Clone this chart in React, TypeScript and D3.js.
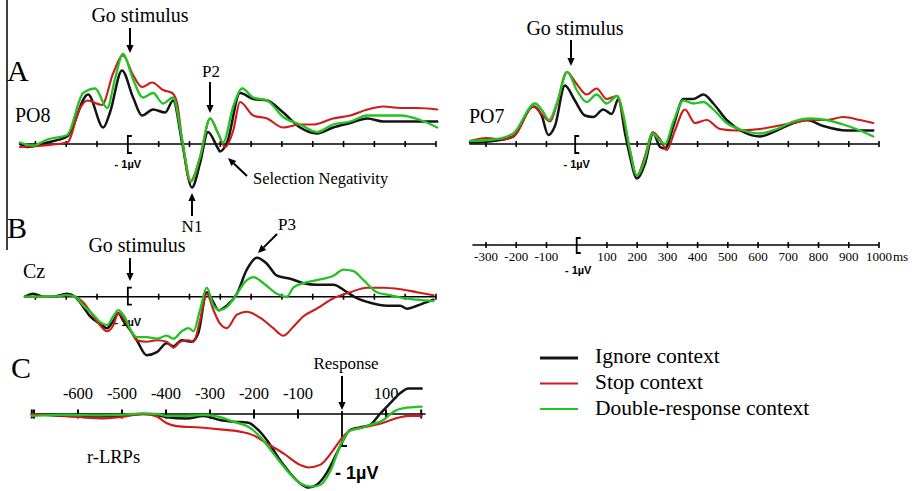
import React from 'react';
import * as d3 from 'd3';

type P = [number, number];

// ---------- Panel A: PO8 (time ms, amplitude µV) ----------
const po8Ignore: P[] = [[-350,0],[-327,-0.2],[-262,0.1],[-197,0.5],[-129,3.3],[-80,1.1],[-58,2.1],[-19,4.9],[17,3.1],[46,1.9],[82,2.3],[121,2.1],[147,2.9],[176,0.1],[208,-2.9],[234,-1.3],[260,0.8],[290,-0.2],[299,-0.5],[322,0.1],[364,3.4],[407,3.0],[452,2.9],[504,2.1],[559,1.1],[614,0.7],[666,1.1],[722,1.4],[777,1.7],[829,1.5],[884,1.5],[939,1.5],[1004,1.5]];
const po8Stop: P[] = [[-350,-0.2],[-197,0.1],[-155,2.4],[-132,2.9],[-84,2.6],[-48,4.7],[-16,5.9],[17,4.6],[46,3.8],[79,4.1],[114,3.6],[144,3.4],[160,2.7],[176,0.3],[202,-2.5],[234,-0.9],[267,1.7],[293,0.7],[316,-0.2],[342,0.9],[364,2.8],[407,1.9],[452,1.7],[504,1.1],[559,1.3],[601,1.3],[666,1.7],[722,1.9],[777,2.3],[829,2.5],[884,2.4],[939,2.4],[1004,2.3]];
const po8Dual: P[] = [[-350,0.1],[-308,-0.1],[-262,0.3],[-197,0.6],[-145,3.4],[-106,3.7],[-67,2.4],[-42,4.3],[-16,6.0],[17,4.3],[49,3.1],[82,3.4],[114,2.7],[147,3.1],[176,0.3],[205,-2.5],[234,-0.9],[267,1.7],[293,0.7],[309,0.1],[342,2.5],[371,3.7],[407,3.1],[452,2.9],[504,1.8],[559,1.3],[614,0.8],[666,1.3],[722,1.5],[777,1.9],[829,1.9],[884,1.9],[949,1.6],[1004,1.1]];

// ---------- Panel A: PO7 ----------
const po7Ignore: P[] = [[-353,0.1],[-276,0.2],[-210,0.5],[-144,2.5],[-116,1.9],[-94,0.6],[-72,1.2],[-39,3.9],[-6,2.9],[27,1.9],[55,1.8],[88,2.3],[116,2.0],[138,3.0],[160,0.7],[176,-0.8],[199,-2.3],[226,-1.3],[253,0.7],[276,-0.2],[292,-0.3],[320,1.2],[353,3.0],[386,3.0],[419,3.3],[452,2.7],[496,1.6],[551,0.8],[606,0.5],[662,0.9],[717,1.4],[761,1.6],[816,1.2],[893,0.9],[981,0.9]];
const po7Stop: P[] = [[-353,0.2],[-298,0.4],[-243,0.3],[-204,0.6],[-144,2.5],[-116,2.0],[-88,1.5],[-66,2.6],[-33,4.8],[0,4.0],[33,3.3],[66,3.7],[99,3.0],[132,3.2],[154,1.8],[176,-0.4],[199,-2.1],[226,-0.8],[251,0.8],[276,0.3],[298,-0.4],[325,0.9],[358,2.3],[391,1.4],[430,1.6],[474,1.0],[529,0.9],[606,1.0],[662,1.2],[717,1.4],[772,1.6],[827,1.6],[882,1.8],[937,1.6],[981,1.4]];
const po7Dual: P[] = [[-353,0.2],[-276,0.3],[-210,0.7],[-138,2.7],[-113,2.2],[-91,1.6],[-66,2.7],[-31,4.8],[0,3.6],[33,2.8],[66,3.3],[99,2.7],[134,3.2],[154,2.0],[176,-0.4],[199,-2.1],[226,-1.0],[251,0.7],[276,0.2],[292,0.0],[320,1.5],[353,2.9],[386,2.7],[419,2.8],[452,2.3],[496,1.4],[551,0.9],[606,0.7],[662,1.0],[717,1.5],[772,1.7],[827,1.6],[882,1.3],[937,0.9],[981,0.5]];

// ---------- Panel B: Cz ----------
const czIgnore: P[] = [[-334,0],[-307,0.2],[-274,0],[-242,0],[-198,0.2],[-171,0],[-144,-0.7],[-123,-1.3],[-90,-1.8],[-68,-2.1],[-47,-1.6],[-31,-1.1],[-15,-1.6],[7,-2.2],[29,-2.9],[61,-3.9],[94,-3.7],[126,-3.1],[148,-3.3],[175,-2.9],[207,-3.0],[229,-2.4],[256,0.3],[278,-0.4],[294,-0.9],[321,-0.6],[354,0.2],[386,1.8],[419,2.6],[451,2.2],[484,1.4],[527,1.2],[570,0.9],[613,0.8],[667,0.8],[711,0.3],[743,-0.1],[786,-0.4],[841,-0.6],[884,-0.6],[906,-0.8],[938,-0.6],[992,-0.2]];
const czStop: P[] = [[-334,0],[-274,0],[-242,0],[-198,0.1],[-171,0],[-144,-0.4],[-112,-1.3],[-90,-1.9],[-68,-2.3],[-47,-1.9],[-31,-1.1],[-9,-1.6],[13,-2.4],[29,-2.9],[61,-3.0],[94,-2.9],[126,-3.0],[148,-3.4],[170,-3.0],[197,-2.9],[213,-3.0],[234,-1.6],[256,0.2],[278,-0.9],[299,-1.8],[321,-2.1],[354,-1.2],[386,-1.0],[429,-1.4],[472,-2.1],[505,-2.6],[537,-2.0],[570,-1.3],[613,-0.8],[667,-0.1],[722,0.3],[776,0.6],[830,0.6],[884,0.5],[938,0.3],[992,0.1]];
const czDual: P[] = [[-334,0],[-274,0],[-242,0],[-198,0.1],[-171,0],[-144,-0.6],[-112,-1.2],[-90,-1.7],[-68,-1.9],[-47,-1.3],[-31,-0.9],[-9,-1.4],[13,-2.4],[29,-2.7],[61,-2.7],[94,-2.8],[126,-2.6],[148,-2.8],[175,-2.3],[197,-2.1],[213,-2.3],[234,-0.9],[256,0.6],[278,-0.6],[299,-0.9],[321,-0.7],[354,0.2],[386,1.1],[408,1.3],[440,0.9],[484,0.2],[516,0],[537,0.6],[570,0.9],[613,1.1],[667,1.4],[700,1.8],[732,1.7],[765,1.1],[808,0.3],[851,0.1],[895,-0.1],[938,-0.2],[992,-0.3]];

// ---------- Panel C: r-LRPs ----------
const lrpIgnore: P[] = [[-705,0],[-626,-0.06],[-550,-0.08],[-505,-0.06],[-452,0],[-421,-0.03],[-398,-0.1],[-353,-0.14],[-315,-0.06],[-277,-0.19],[-247,-0.24],[-213,-0.27],[-194,-0.45],[-171,-0.81],[-141,-1.44],[-118,-1.85],[-95,-2.17],[-76,-2.3],[-58,-2.22],[-35,-1.85],[-12,-1.23],[3,-0.81],[18,-0.5],[41,-0.42],[64,-0.34],[86,0],[109,0.33],[132,0.65],[151,0.8],[181,0.8]];
const lrpStop: P[] = [[-705,0],[-626,-0.06],[-550,-0.14],[-505,-0.1],[-452,0],[-421,-0.08],[-398,-0.29],[-376,-0.38],[-323,-0.42],[-277,-0.48],[-232,-0.55],[-202,-0.66],[-171,-0.92],[-133,-1.23],[-95,-1.59],[-76,-1.67],[-50,-1.59],[-20,-1.13],[-1,-0.76],[18,-0.52],[56,-0.4],[94,-0.27],[132,-0.1],[155,-0.06],[181,-0.06]];
const lrpDual: P[] = [[-705,-0.06],[-626,-0.03],[-550,-0.04],[-505,-0.03],[-452,0.02],[-421,0],[-398,-0.06],[-353,-0.06],[-315,-0.03],[-277,-0.1],[-247,-0.24],[-213,-0.4],[-186,-0.71],[-156,-1.23],[-126,-1.75],[-95,-2.17],[-68,-2.27],[-50,-2.22],[-27,-1.8],[-5,-1.02],[18,-0.52],[41,-0.45],[64,-0.34],[94,-0.19],[117,0.07],[140,0.18],[181,0.23]];

// ---------- ticks, labels ----------
const stimTicks = [-300, -200, -100, 100, 200, 300, 400, 500, 600, 700, 800, 900, 1000];
const stimTickLabels = ['-300', '-200', '-100', '100', '200', '300', '400', '500', '600', '700', '800', '900', '1000'];
const lrpTicks = [-700, -600, -500, -400, -300, -200, -100, 100, 180];
const lrpTickLabelValues = [-600, -500, -400, -300, -200, -100, 100];
const lrpTickLabels = ['-600', '-500', '-400', '-300', '-200', '-100', '100'];
const legendLabels = ['Ignore context', 'Stop context', 'Double-response context'];
const seriesColors = ['#141414', '#cc1c1c', '#22c322'];
const seriesWidths = [2.5, 2.1, 2.3];

const SERIF = '"Liberation Serif", "Times New Roman", serif';
const SANS = '"Liberation Sans", Arial, sans-serif';

function Arrow({ x1, y1, x2, y2 }: { x1: number; y1: number; x2: number; y2: number }) {
  const ang = Math.atan2(y2 - y1, x2 - x1);
  const L = 8, W = 3.6;
  const bx = x2 - L * Math.cos(ang), by = y2 - L * Math.sin(ang);
  const px = -Math.sin(ang) * W, py = Math.cos(ang) * W;
  return (
    <g>
      <line x1={x1} y1={y1} x2={bx} y2={by} stroke="#000" strokeWidth={2} />
      <path d={`M${x2},${y2}L${bx + px},${by + py}L${bx - px},${by - py}Z`} fill="#000" />
    </g>
  );
}

export default function App() {
  const xA = d3.scaleLinear().domain([-350, 1000]).range([20, 436]);
  const xR = d3.scaleLinear().domain([-300, 1000]).range([486, 879]);
  const xC = d3.scaleLinear().domain([-600, 0]).range([78, 342]);
  const yPO8 = d3.scaleLinear().domain([-4, 8]).range([204, 24]);
  const yPO7 = d3.scaleLinear().domain([-4, 8]).range([204, 24]);
  const yCz = d3.scaleLinear().domain([-4, 4]).range([356.7, 236.7]);
  const yC = d3.scaleLinear().domain([-2, 1]).range([478, 382]);

  const mk = (xs: d3.ScaleLinear<number, number>, ys: d3.ScaleLinear<number, number>) =>
    d3.line<P>().x(d => xs(d[0])).y(d => ys(d[1])).curve(d3.curveMonotoneX);

  const lPO8 = mk(xA, yPO8);
  const lPO7 = mk(xR, yPO7);
  const lCz = mk(xA, yCz);
  const lC = mk(xC, yC);

  const drawSeries = (gen: d3.Line<P>, sets: P[][]) =>
    sets.map((s, i) => (
      <path key={i} d={gen(s) || ''} fill="none" stroke={seriesColors[i]} strokeWidth={seriesWidths[i]} strokeLinejoin="round" strokeLinecap="round" />
    ));

  const bracket = (x: number, y0: number, y1: number) => (
    <path d={`M${x + 4},${y0}H${x}V${y1}H${x + 4}`} fill="none" stroke="#000" strokeWidth={1.8} />
  );

  const axis = (xs: d3.ScaleLinear<number, number>, y: number, x0: number, x1: number, ticks: number[]) => (
    <g>
      <line x1={x0} x2={x1} y1={y} y2={y} stroke="#000" strokeWidth={1.6} />
      {ticks.map(t => (
        <line key={t} x1={xs(t)} x2={xs(t)} y1={y - 3} y2={y + 3} stroke="#000" strokeWidth={1.6} />
      ))}
    </g>
  );

  const y0PO8 = yPO8(0), y0PO7 = yPO7(0), y0Cz = yCz(0), y0C = yC(0);
  const yBottomAxis = 245;

  return (
    <svg width={916} height={491} style={{ position: 'absolute', left: 0, top: 0, background: '#fff' }}>
      <rect width={916} height={491} fill="#fff" />
      {/* left vertical rule */}
      <line x1={7} x2={7} y1={0} y2={250} stroke="#000" strokeWidth={1.5} />

      {/* panel letters */}
      <text x={7} y={81} fontFamily={SERIF} fontSize={30}>A</text>
      <text x={7} y={238} fontFamily={SERIF} fontSize={30}>B</text>
      <text x={11} y={378} fontFamily={SERIF} fontSize={30}>C</text>

      {/* ===== PO8 ===== */}
      <text x={15} y={122} fontFamily={SERIF} fontSize={20}>PO8</text>
      {axis(xA, y0PO8, xA(-350), xA(1000), stimTicks)}
      {bracket(xA(0), y0PO8 - 8, y0PO8 + 9)}
      <text x={xA(0)} y={168} textAnchor="middle" fontFamily={SANS} fontWeight="bold" fontSize={11}>- 1µV</text>
      <text x={140} y={22} textAnchor="middle" fontFamily={SERIF} fontSize={20}>Go stimulus</text>
      <Arrow x1={130} y1={28} x2={130} y2={53} />
      <text x={211} y={77} textAnchor="middle" fontFamily={SERIF} fontSize={17}>P2</text>
      <Arrow x1={210} y1={82} x2={210} y2={113} />
      <text x={253} y={184} fontFamily={SERIF} fontSize={16.5}>Selection Negativity</text>
      <Arrow x1={247} y1={176} x2={228} y2={158} />
      <Arrow x1={192} y1={216} x2={192} y2={193} />
      <text x={192} y={232} textAnchor="middle" fontFamily={SERIF} fontSize={17}>N1</text>
      {drawSeries(lPO8, [po8Ignore, po8Stop, po8Dual])}

      {/* ===== PO7 ===== */}
      <text x={469} y={123} fontFamily={SERIF} fontSize={20}>PO7</text>
      {axis(xR, y0PO7, xR(-355), xR(1000), stimTicks)}
      {bracket(xR(-5), y0PO7 - 8, y0PO7 + 9)}
      <text x={xR(0)} y={168} textAnchor="middle" fontFamily={SANS} fontWeight="bold" fontSize={11}>- 1µV</text>
      <text x={575} y={35} textAnchor="middle" fontFamily={SERIF} fontSize={20}>Go stimulus</text>
      <Arrow x1={571} y1={40} x2={571} y2={66} />
      {drawSeries(lPO7, [po7Ignore, po7Stop, po7Dual])}

      {/* ===== shared time axis (right) ===== */}
      {axis(xR, yBottomAxis, xR(-345), xR(1000), stimTicks)}
      {bracket(xR(0), yBottomAxis - 7, yBottomAxis + 8)}
      {stimTicks.map((t, i) => (
        <text key={t} x={xR(t)} y={261} textAnchor="middle" fontFamily={SERIF} fontSize={13}>{stimTickLabels[i]}</text>
      ))}
      <text x={893} y={261} fontFamily={SERIF} fontSize={13}>ms</text>
      <text x={xR(5)} y={274} textAnchor="middle" fontFamily={SANS} fontWeight="bold" fontSize={11}>- 1µV</text>

      {/* ===== Cz ===== */}
      <text x={23} y={278} fontFamily={SERIF} fontSize={20}>Cz</text>
      {axis(xA, y0Cz, xA(-335), xA(1000), stimTicks)}
      {bracket(xA(0), y0Cz - 9, y0Cz + 8)}
      <text x={xA(0)} y={326} textAnchor="middle" fontFamily={SANS} fontWeight="bold" fontSize={11}>- 1µV</text>
      <text x={137} y={252} textAnchor="middle" fontFamily={SERIF} fontSize={20}>Go stimulus</text>
      <Arrow x1={130} y1={258} x2={130} y2={281} />
      <text x={287} y={230} textAnchor="middle" fontFamily={SERIF} fontSize={17}>P3</text>
      <Arrow x1={277} y1={234} x2={258} y2={253} />
      {drawSeries(lCz, [czIgnore, czStop, czDual])}

      {/* ===== r-LRPs ===== */}
      <line x1={xC(-705)} x2={xC(190)} y1={y0C} y2={y0C} stroke="#000" strokeWidth={1.6} />
      {lrpTicks.map(t => (
        <line key={t} x1={xC(t)} x2={xC(t)} y1={y0C - 4.5} y2={y0C + 4.5} stroke="#000" strokeWidth={2} />
      ))}
      <line x1={xC(-705)} x2={xC(-705)} y1={y0C - 4.5} y2={y0C + 4.5} stroke="#000" strokeWidth={2} />
      {lrpTickLabelValues.map((t, i) => (
        <text key={t} x={xC(t)} y={399} textAnchor="middle" fontFamily={SERIF} fontSize={16.5}>{lrpTickLabels[i]}</text>
      ))}
      <path d={`M${xC(0)},${y0C - 3}V${yC(-1)}H${xC(0) + 5}`} fill="none" stroke="#000" strokeWidth={1.8} />
      <text x={346} y={369} textAnchor="middle" fontFamily={SERIF} fontSize={17}>Response</text>
      <Arrow x1={xC(0)} y1={376} x2={xC(0)} y2={410} />
      <text x={87} y={463} fontFamily={SERIF} fontSize={18.5}>r-LRPs</text>
      {drawSeries(lC, [lrpIgnore, lrpStop, lrpDual])}
      <text x={335} y={479} fontFamily={SANS} fontWeight="bold" fontSize={18}>- 1µV</text>

      {/* ===== legend ===== */}
      {legendLabels.map((lab, i) => (
        <g key={lab}>
          <line x1={540} x2={578} y1={358 + i * 25.5} y2={358 + i * 25.5} stroke={seriesColors[i]} strokeWidth={i === 0 ? 3 : 2.2} />
          <text x={595} y={363 + i * 26} fontFamily={SERIF} fontSize={21.5}>{lab}</text>
        </g>
      ))}
    </svg>
  );
}
